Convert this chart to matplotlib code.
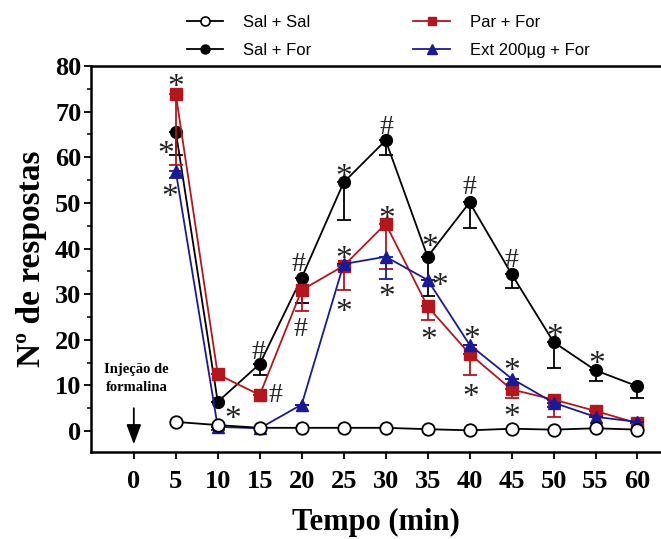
import matplotlib
matplotlib.use("Agg")
import matplotlib.pyplot as plt
from matplotlib.lines import Line2D
from matplotlib.transforms import offset_copy
import numpy as np

tempo = [5, 10, 15, 20, 25, 30, 35, 40, 45, 50, 55, 60]
sal_sal = [2.0, 1.3, 0.7, 0.7, 0.7, 0.7, 0.4, 0.15, 0.5, 0.3, 0.6, 0.3]
sal_for = [65.6, 6.4, 14.7, 33.6, 54.5, 63.7, 38.2, 50.1, 34.4, 19.5, 13.3, 9.8]
sal_for_err = [5.2, 0.0, 2.4, 5.5, 8.2, 3.3, 8.5, 5.6, 3.0, 5.7, 2.3, 2.5]
par_for = [73.8, 12.4, 7.9, 30.9, 36.2, 45.4, 27.3, 16.9, 9.1, 6.9, 4.4, 1.7]
par_for_err = [15.5, 0.0, 0.0, 4.5, 5.3, 9.9, 3.0, 4.6, 1.8, 3.8, 0.0, 0.0]
ext_for = [56.9, 0.9, 0.6, 5.8, 36.6, 38.2, 33.1, 18.9, 11.5, 6.2, 3.1, 2.0]
ext_for_err = [1.4, 0.6, 0.0, 0.0, 0.0, 4.9, 0.0, 0.0, 0.0, 1.0, 0.0, 0.0]

# significance marks: (x, y, symbol)
marks_x = [5.0, 3.8, 4.3, 11.75, 14.9, 16.9, 19.6, 19.8, 25.0, 25.0, 25.0,
           30.1, 30.1, 30.1, 35.2, 36.5, 35.1, 40.0, 40.2, 40.1, 45.0, 45.0, 45.0,
           50.1, 55.1]
marks_y = [77.0, 62.2, 52.9, 4.2, 17.8, 8.4, 37.1, 22.9, 57.2, 39.3, 27.6,
           67.1, 48.1, 30.9, 41.9, 33.3, 21.4, 53.9, 21.8, 9.0, 37.9, 14.7, 4.6,
           22.1, 16.3]
marks_s = ["*", "*", "*", "*", "#", "#", "#", "#", "*", "*", "*",
           "#", "*", "*", "*", "*", "*", "#", "*", "*", "#", "*", "*",
           "*", "*"]

xticks = [0, 5, 10, 15, 20, 25, 30, 35, 40, 45, 50, 55, 60]
yticks = [0, 10, 20, 30, 40, 50, 60, 70, 80]

fig = plt.figure(figsize=(6.61, 5.39), dpi=100)
ax = fig.add_axes([91/661, 87/539, 570/661, 386/539])

RED = "#b3161c"
BLUE = "#1a1a96"

def lower_err(e):
    return [e, [0]*len(e)]

ax.errorbar(tempo, sal_for, yerr=lower_err(sal_for_err), color="black", lw=1.3,
            marker="o", ms=8.5, mfc="black", mec="black", capsize=5, elinewidth=1.3,
            capthick=1.3, zorder=3)
ax.errorbar(tempo, par_for, yerr=lower_err(par_for_err), color=RED, lw=1.3,
            marker="s", ms=8, mfc=RED, mec=RED, capsize=5, elinewidth=1.3,
            capthick=1.3, zorder=4)
ax.errorbar(tempo, ext_for, yerr=lower_err(ext_for_err), color=BLUE, lw=1.3,
            marker="^", ms=8, mfc=BLUE, mec=BLUE, capsize=5, elinewidth=1.3,
            capthick=1.3, zorder=5)
ax.plot(tempo, sal_sal, color="black", lw=1.3, marker="o", ms=9, mfc="white",
        mec="black", mew=1.3, zorder=6)

for x, y, s in zip(marks_x, marks_y, marks_s):
    fs = 24 if s == "*" else 20
    dy = -0.48 * fs if s == "*" else -0.33 * fs
    tr = offset_copy(ax.transData, fig=fig, x=0, y=dy, units="points")
    ax.text(x, y, s, ha="center", va="baseline", fontsize=fs,
            family="Liberation Serif", color="#222222", zorder=7, transform=tr)

# injection arrow
ax.annotate("", xy=(0, -2.9), xytext=(0, 5.0),
            arrowprops=dict(arrowstyle="-|>,head_width=0.45,head_length=1.2",
                            color="black", lw=1.3, shrinkA=0, shrinkB=0))
ax.text(0.3, 11.5, "Injeção de\nformalina", ha="center", va="center",
        fontsize=10.5, fontweight="bold", family="Liberation Serif",
        linespacing=1.45)

ax.set_xlim(-5.1, 62.8)
ax.set_ylim(-4.6, 80)
ax.set_xticks(xticks)
ax.set_yticks(yticks)
ax.set_yticks(np.arange(5, 80, 10), minor=True)
for lab in ax.get_xticklabels() + ax.get_yticklabels():
    lab.set_fontfamily("Liberation Serif")
    lab.set_fontweight("bold")
    lab.set_fontsize(19)
ax.tick_params(axis="both", which="major", direction="out", length=5, width=1.3)
ax.tick_params(axis="y", which="minor", direction="out", length=3, width=1.1)
ax.tick_params(axis="x", pad=8)
ax.tick_params(axis="y", pad=2)
ax.spines["right"].set_visible(False)
for sp in ["left", "bottom", "top"]:
    ax.spines[sp].set_linewidth(1.8)

ax.set_xlabel("Tempo (min)", fontsize=22, fontweight="bold",
              family="Liberation Serif", labelpad=11)
ax.set_ylabel("Nº de respostas", fontsize=24, fontweight="bold",
              family="Liberation Serif", labelpad=6)

labels = ["Sal + Sal", "Sal + For", "Par + For", "Ext 200µg + For"]
handles = [
    Line2D([], [], color="black", lw=1.3, marker="o", ms=6.5, mfc="white", mec="black", mew=1.2),
    Line2D([], [], color="black", lw=1.3, marker="o", ms=6.5, mfc="black", mec="black"),
    Line2D([], [], color=RED, lw=1.3, marker="s", ms=6, mfc=RED, mec=RED),
    Line2D([], [], color=BLUE, lw=1.3, marker="^", ms=6.5, mfc=BLUE, mec=BLUE),
]
fig.legend(handles, labels, ncol=2, frameon=False,
           loc="upper left", bbox_to_anchor=(175/661, 1 - 3/539),
           prop={"family": "Liberation Sans", "size": 12},
           handlelength=2.2, columnspacing=6.1, labelspacing=0.8,
           handletextpad=1.2, borderaxespad=0.3)

fig.savefig("out.png", dpi=100)
